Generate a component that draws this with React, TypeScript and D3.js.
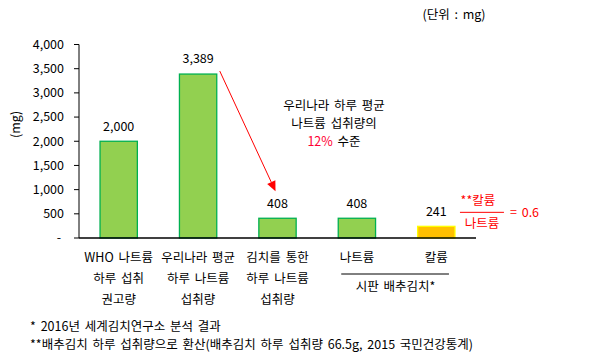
import React from 'react';
import * as d3 from 'd3';

// chart data
const categories = ['who', 'avg', 'kimchi', 'na', 'k'];
const categoryLines = [
    ['WHO 나트륨', '하루 섭취', '권고량'],
    ['우리나라 평균', '하루 나트륨', '섭취량'],
    ['김치를 통한', '하루 나트륨', '섭취량'],
    ['나트륨'],
    ['칼륨']
];
const values = [2000, 3389, 408, 408, 241];
const barKinds = ['na', 'na', 'na', 'na', 'k'];
const yTicks = [0, 500, 1000, 1500, 2000, 2500, 3000, 3500, 4000];
const groupLabel = '시판 배추김치*';
const noteLines = ['우리나라 하루 평균', '나트륨 섭취량의'];
const notes = [
    '* 2016년 세계김치연구소 분석 결과',
    '**배추김치 하루 섭취량으로 환산(배추김치 하루 섭취량 66.5g, 2015 국민건강통계)'
];

const W = 606, H = 359;
const FONT = '"Malgun Gothic", "Noto Sans CJK KR", sans-serif';
const colors = {
    na: { fill: '#92D050', stroke: '#00B050' },
    k: { fill: '#FFC000', stroke: '#FFFF00' }
};

export default function App() {
    const x = d3.scaleBand<string>()
        .domain(categories)
        .range([79, 476])
        .paddingInner(0.53)
        .paddingOuter(0.265);
    const y = d3.scaleLinear().domain([0, 4000]).range([238, 44.5]);
    const fmt = d3.format(',');
    const bw = x.bandwidth();
    const cx = (c: string) => (x(c) as number) + bw / 2;

    // arrow from the average bar to the kimchi bar
    const ax1 = (x('avg') as number) + bw + 3, ay1 = y(3389) - 3;
    const ax2 = cx('kimchi') - 2, ay2 = y(408) - 27;
    const ang = Math.atan2(ay2 - ay1, ax2 - ax1);
    const head = 10, half = 4.5;
    const bx = ax2 - head * Math.cos(ang), by = ay2 - head * Math.sin(ang);
    const headPts = [
        [ax2, ay2],
        [bx + half * Math.sin(ang), by - half * Math.cos(ang)],
        [bx - half * Math.sin(ang), by + half * Math.cos(ang)]
    ].map(p => p.join(',')).join(' ');

    const kRight = (x('k') as number) + bw;
    const fracY = y(241) - 14;

    return (
        <svg width={W} height={H} style={{ position: 'absolute', left: 0, top: 0, background: '#fff' }}
             fontFamily={FONT} fontSize={12.5} wordSpacing={2}>
            {/* unit */}
            <text x={454} y={15} dy="0.35em" textAnchor="middle" fill="#000">(단위 : mg)</text>

            {/* y axis */}
            <text transform={`translate(16,${y(2350)}) rotate(-90)`} dy="0.35em" textAnchor="middle">(mg)</text>
            <line x1={79} x2={79} y1={y(4000)} y2={y(0)} stroke="#000" />
            {yTicks.map(t => (
                <g key={t}>
                    <line x1={74} x2={79} y1={y(t)} y2={y(t)} stroke="#000" />
                    <text x={t === 0 ? 61 : 64} y={y(t)} dy="0.35em" textAnchor="end">{t === 0 ? '-' : fmt(t)}</text>
                </g>
            ))}

            {/* bars */}
            {categories.map((c, i) => (
                <g key={c}>
                    <rect x={x(c)} y={y(values[i])} width={bw} height={y(0) - y(values[i])}
                          fill={colors[barKinds[i]].fill} stroke={colors[barKinds[i]].stroke} strokeWidth={1.3} />
                    <text x={cx(c)} y={y(values[i]) - 15} dy="0.35em" textAnchor="middle">{fmt(values[i])}</text>
                    {categoryLines[i].map((l, j) => (
                        <text key={j} x={cx(c)} y={258 + j * 20.7} dy="0.35em" textAnchor="middle">{l}</text>
                    ))}
                </g>
            ))}
            <line x1={79} x2={476} y1={y(0)} y2={y(0)} stroke="#000" strokeWidth={1.3} />

            {/* group label */}
            <line x1={(x('na') as number) + 3} x2={kRight - 6} y1={274} y2={274} stroke="#000" />
            <text x={(cx('na') + cx('k')) / 2 - 1} y={287} dy="0.35em" textAnchor="middle">{groupLabel}</text>

            {/* annotation */}
            <line x1={ax1} y1={ay1} x2={bx} y2={by} stroke="#FF0000" strokeWidth={1} />
            <polygon points={headPts} fill="#FF0000" />
            {noteLines.map((l, i) => (
                <text key={i} x={334} y={106 + i * 18} dy="0.35em" textAnchor="middle">{l}</text>
            ))}
            <text x={334} y={142} dy="0.35em" textAnchor="middle">
                <tspan fill="#FF0033">12%</tspan> 수준
            </text>

            {/* K / Na ratio */}
            <text x={kRight + 23} y={fracY - 12} dy="0.35em" textAnchor="middle" fill="#FF0000">**칼륨</text>
            <line x1={kRight + 5} x2={kRight + 49} y1={fracY} y2={fracY} stroke="#FF0000" />
            <text x={kRight + 27} y={fracY + 11} dy="0.35em" textAnchor="middle" fill="#FF0000">나트륨</text>
            <text x={kRight + 55} y={fracY} dy="0.35em" fill="#FF0000">= 0.6</text>

            {/* footnotes */}
            {notes.map((n, i) => (
                <text key={i} x={30} y={327 + i * 18} dy="0.35em">{n}</text>
            ))}
        </svg>
    );
}
